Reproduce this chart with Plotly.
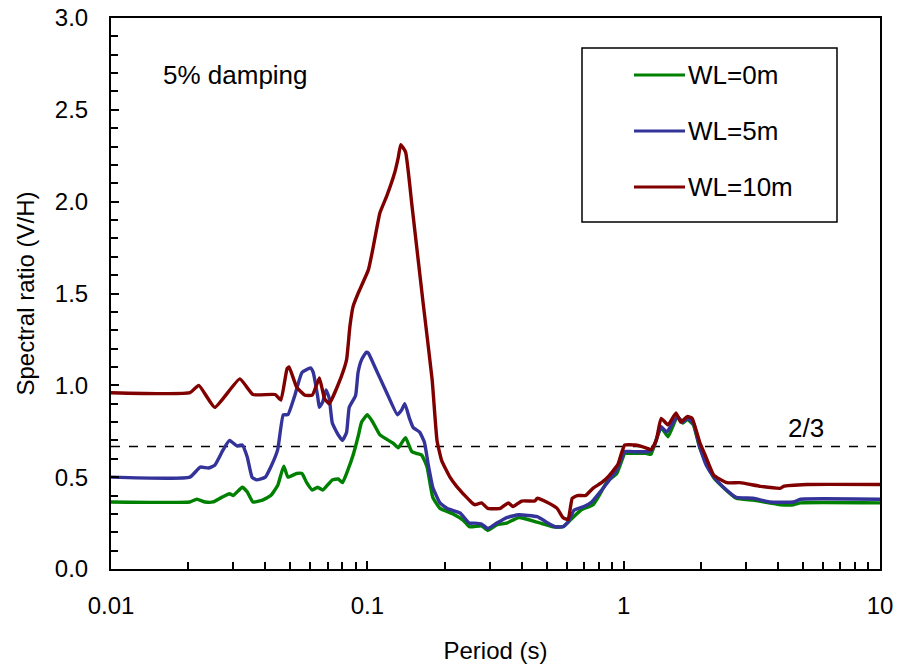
import plotly.graph_objects as go

# Period (s) and V/H spectral ratio for each water level
period_wl0 = [0.01, 0.0203, 0.0216, 0.0233, 0.025, 0.027, 0.029, 0.030, 0.0325, 0.034,
              0.0358, 0.039, 0.042, 0.0447, 0.0472, 0.049, 0.053, 0.0556, 0.058, 0.061,
              0.064, 0.067, 0.073, 0.077, 0.080, 0.084, 0.088, 0.092, 0.095, 0.100,
              0.105, 0.112, 0.126, 0.132, 0.138, 0.141, 0.149, 0.155, 0.163, 0.171,
              0.180, 0.192, 0.216, 0.237, 0.250, 0.279, 0.295, 0.32, 0.35, 0.39,
              0.46, 0.53, 0.58, 0.607, 0.68, 0.76, 0.81, 0.86, 0.94, 1.01,
              1.03, 1.22, 1.26, 1.28, 1.40, 1.49, 1.62, 1.70, 1.77, 1.87,
              1.98, 2.25, 2.75, 3.2, 4.1, 4.6, 4.9, 10]
ratio_wl0 = [0.365, 0.365, 0.38, 0.365, 0.365, 0.39, 0.41, 0.40, 0.445, 0.42,
             0.365, 0.375, 0.40, 0.455, 0.56, 0.50, 0.52, 0.52, 0.47, 0.43,
             0.445, 0.43, 0.485, 0.49, 0.47, 0.54, 0.62, 0.72, 0.80, 0.84,
             0.80, 0.73, 0.685, 0.66, 0.70, 0.715, 0.64, 0.63, 0.62, 0.555,
             0.39, 0.33, 0.30, 0.265, 0.23, 0.235, 0.21, 0.24, 0.25, 0.28,
             0.255, 0.23, 0.23, 0.255, 0.32, 0.35, 0.41, 0.475, 0.52, 0.63,
             0.63, 0.63, 0.625, 0.625, 0.77, 0.72, 0.83, 0.795, 0.815, 0.785,
             0.66, 0.495, 0.385, 0.375, 0.35, 0.35, 0.36, 0.36]

period_wl5 = [0.01, 0.0203, 0.0223, 0.024, 0.0254, 0.0274, 0.029, 0.031, 0.0325, 0.034,
              0.0355, 0.037, 0.040, 0.042, 0.0447, 0.047, 0.049, 0.052, 0.0556, 0.060,
              0.0615, 0.064, 0.065, 0.067, 0.069, 0.071, 0.073, 0.077, 0.080, 0.083,
              0.085, 0.090, 0.092, 0.095, 0.099, 0.101, 0.107, 0.119, 0.131, 0.136,
              0.140, 0.146, 0.151, 0.160, 0.167, 0.173, 0.180, 0.192, 0.205, 0.23,
              0.25, 0.262, 0.279, 0.295, 0.32, 0.35, 0.39, 0.46, 0.50, 0.54,
              0.58, 0.607, 0.64, 0.70, 0.75, 0.81, 0.88, 0.94, 1.01, 1.03,
              1.26, 1.31, 1.40, 1.47, 1.54, 1.62, 1.70, 1.77, 1.87, 1.98,
              2.10, 2.25, 2.45, 2.75, 3.2, 3.7, 4.6, 4.9, 10]
ratio_wl5 = [0.50, 0.50, 0.555, 0.55, 0.565, 0.65, 0.70, 0.67, 0.675, 0.61,
             0.50, 0.485, 0.50, 0.555, 0.65, 0.84, 0.84, 0.94, 1.07, 1.095,
             1.07, 0.94, 0.88, 0.91, 0.975, 0.93, 0.795, 0.73, 0.70, 0.745,
             0.88, 0.945, 1.07, 1.14, 1.18, 1.175, 1.10, 0.96, 0.84, 0.865,
             0.90, 0.82, 0.77, 0.745, 0.69, 0.565, 0.445, 0.36, 0.33, 0.305,
             0.25, 0.25, 0.245, 0.22, 0.25, 0.28, 0.295, 0.285, 0.255, 0.23,
             0.23, 0.255, 0.32, 0.34, 0.365, 0.42, 0.485, 0.54, 0.64, 0.64,
             0.64, 0.665, 0.775, 0.745, 0.785, 0.83, 0.80, 0.82, 0.795, 0.665,
             0.565, 0.50, 0.445, 0.39, 0.385, 0.365, 0.365, 0.38, 0.38]

period_wl10 = [0.01, 0.0203, 0.022, 0.0254, 0.0318, 0.0358, 0.0437, 0.046, 0.0486, 0.0495,
               0.053, 0.057, 0.061, 0.065, 0.068, 0.071, 0.079, 0.083, 0.0855, 0.088,
               0.092, 0.101, 0.105, 0.112, 0.119, 0.128, 0.132, 0.135, 0.141, 0.149,
               0.153, 0.165, 0.179, 0.187, 0.195, 0.21, 0.223, 0.25, 0.262, 0.279,
               0.295, 0.33, 0.355, 0.37, 0.40, 0.45, 0.46, 0.50, 0.55, 0.58,
               0.607, 0.63, 0.66, 0.71, 0.76, 0.82, 0.88, 0.95, 0.98, 1.01,
               1.11, 1.22, 1.28, 1.34, 1.40, 1.49, 1.60, 1.67, 1.77, 1.85,
               1.98, 2.08, 2.25, 2.53, 2.84, 3.42, 4.1, 4.2, 5.2, 10]
ratio_wl10 = [0.96, 0.96, 1.00, 0.88, 1.035, 0.95, 0.95, 0.92, 1.09, 1.10,
              0.99, 0.947, 0.947, 1.04, 0.93, 0.90, 1.045, 1.14, 1.32, 1.43,
              1.50, 1.63, 1.74, 1.94, 2.03, 2.16, 2.24, 2.31, 2.27, 1.99,
              1.85, 1.45, 1.03, 0.70, 0.59, 0.50, 0.45, 0.375, 0.35, 0.36,
              0.33, 0.33, 0.36, 0.34, 0.37, 0.37, 0.385, 0.365, 0.33, 0.28,
              0.27, 0.385, 0.40, 0.40, 0.44, 0.47, 0.51, 0.57, 0.63, 0.675,
              0.675, 0.66, 0.65, 0.70, 0.82, 0.785, 0.85, 0.80, 0.83, 0.82,
              0.69, 0.62, 0.51, 0.47, 0.47, 0.45, 0.44, 0.45, 0.46, 0.46]

series_names = ["WL=0m", "WL=5m", "WL=10m"]
series_colors = ["#008000", "#333399", "#800000"]
threshold = 2 / 3
threshold_label = "2/3"
damping_label = "5% damping"
x_tick_values = [0.01, 0.1, 1, 10]
x_tick_labels = ["0.01", "0.1", "1", "10"]

periods = [period_wl0, period_wl5, period_wl10]
ratios = [ratio_wl0, ratio_wl5, ratio_wl10]
for p, r in zip(periods, ratios):
    assert len(p) == len(r)

FONT = "Liberation Sans, Arial, sans-serif"
TICK_SIZE = 24
TEXT_SIZE = 26

fig = go.Figure()

# 2/3 reference line
fig.add_trace(go.Scatter(x=[0.01, 10], y=[threshold, threshold], mode="lines",
                         line=dict(color="black", width=1.5, dash="dash"),
                         showlegend=False, hoverinfo="skip"))

for name, color, p, r in zip(series_names, series_colors, periods, ratios):
    fig.add_trace(go.Scatter(x=p, y=r, mode="lines", name=name,
                             line=dict(color=color, width=3.4, shape="spline", smoothing=0.4),
                             showlegend=False))

# Plot-area geometry in pixels, used to place the hand-drawn legend box
L, R, T, B = 111, 880, 18, 569


def px_x(px):
    return (px - L) / (R - L)


def px_y(py):
    return (B - py) / (B - T)


shapes = []
annotations = []

# Legend box
shapes.append(dict(type="rect", xref="paper", yref="paper",
                   x0=px_x(582), x1=px_x(837), y0=px_y(222), y1=px_y(48),
                   line=dict(color="black", width=1.5), fillcolor="white", layer="above"))
for i, (name, color) in enumerate(zip(series_names, series_colors)):
    yy = px_y(75 + 56 * i)
    shapes.append(dict(type="line", xref="paper", yref="paper",
                       x0=px_x(634), x1=px_x(685), y0=yy, y1=yy,
                       line=dict(color=color, width=3), layer="above"))
    annotations.append(dict(xref="paper", yref="paper", x=px_x(686), y=yy,
                            text=name, showarrow=False, xanchor="left", yanchor="middle",
                            font=dict(family=FONT, size=TEXT_SIZE, color="black")))

annotations.append(dict(xref="paper", yref="paper", x=px_x(161), y=px_y(75),
                        text=damping_label, showarrow=False, xanchor="left", yanchor="middle",
                        font=dict(family=FONT, size=TEXT_SIZE, color="black")))
annotations.append(dict(x=0.712, y=threshold, xref="x", yref="y",
                        text=threshold_label, showarrow=False, xanchor="center",
                        yanchor="bottom", yshift=2,
                        font=dict(family=FONT, size=TEXT_SIZE, color="black")))

fig.update_layout(
    width=899, height=670,
    margin=dict(l=L, r=899 - R, t=T, b=670 - B, autoexpand=False),
    paper_bgcolor="white", plot_bgcolor="white",
    font=dict(family=FONT, size=TICK_SIZE, color="black"),
    shapes=shapes, annotations=annotations,
    showlegend=False,
)

fig.update_xaxes(
    type="log", range=[-2, 1.00001], automargin=False,
    tickmode="array", tickvals=x_tick_values, ticktext=x_tick_labels,
    showgrid=False, zeroline=False,
    showline=True, linecolor="black", linewidth=2, mirror=True,
    ticks="inside", ticklen=8, tickwidth=1.5, tickcolor="black",
    minor=dict(ticks="inside", ticklen=7, tickwidth=1.5, tickcolor="black",
               dtick="D1", showgrid=False),
    tickfont=dict(family=FONT, size=TICK_SIZE),
    ticklabelstandoff=14,
    title=dict(text="Period (s)", font=dict(family=FONT, size=TICK_SIZE), standoff=24),
)
fig.update_yaxes(
    range=[0, 3], dtick=0.5, tickformat=".1f", automargin=False,
    showgrid=False, zeroline=False,
    showline=True, linecolor="black", linewidth=2, mirror=True,
    ticks="inside", ticklen=8, tickwidth=1.5, tickcolor="black",
    minor=dict(ticks="inside", ticklen=7, tickwidth=1.5, tickcolor="black",
               dtick=0.1, showgrid=False),
    tickfont=dict(family=FONT, size=TICK_SIZE),
    ticklabelstandoff=16,
    title=dict(text="Spectral ratio (V/H)", font=dict(family=FONT, size=TICK_SIZE), standoff=13),
)

fig.write_html("out.html")
